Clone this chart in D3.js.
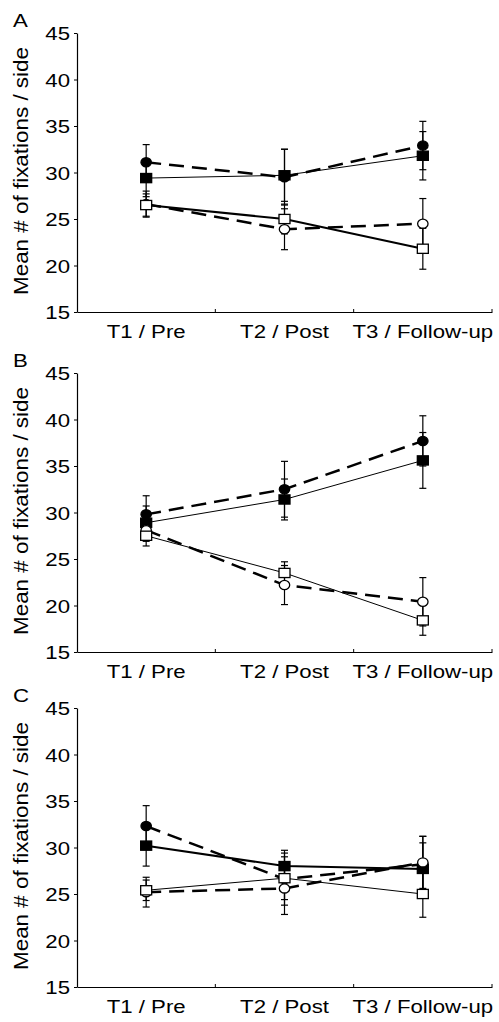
<!DOCTYPE html>
<html>
<head>
<meta charset="utf-8">
<script src="https://cdn.jsdelivr.net/npm/d3@7"></script>
<style>
  body { margin: 0; background: #fff; }
  text { font-family: "Liberation Sans", Arial, sans-serif; fill: #000; }
</style>
</head>
<body>
<script>
const categories = ["T1 / Pre", "T2 / Post", "T3 / Follow-up"];
const yTicks = [15, 20, 25, 30, 35, 40, 45];
const panelLabels = ["A", "B", "C"];
const yTitle = "Mean # of fixations / side";

// panel A: means and error
const aFilledCircle = [31.1, 29.5, 32.9];
const aFilledCircleErr = [1.9, 3.0, 2.6];
const aFilledSquare = [29.4, 29.7, 31.8];
const aFilledSquareErr = [2.0, 2.8, 2.6];
const aOpenCircle = [26.6, 23.9, 24.5];
const aOpenCircleErr = [1.4, 2.2, 2.7];
const aOpenSquare = [26.5, 25.0, 21.8];
const aOpenSquareErr = [1.2, 1.6, 2.2];

// panel B
const bFilledCircle = [29.8, 32.5, 37.7];
const bFilledCircleErr = [2.0, 3.0, 2.7];
const bFilledSquare = [28.9, 31.4, 35.6];
const bFilledSquareErr = [1.8, 2.2, 3.0];
const bOpenCircle = [28.1, 22.2, 20.4];
const bOpenCircleErr = [1.2, 2.1, 2.6];
const bOpenSquare = [27.5, 23.5, 18.4];
const bOpenSquareErr = [1.1, 1.2, 1.6];

// panel C
const cFilledCircle = [32.3, 26.6, 28.2];
const cFilledCircleErr = [2.2, 2.8, 3.0];
const cFilledSquare = [30.2, 28.0, 27.7];
const cFilledSquareErr = [2.2, 1.7, 2.8];
const cOpenCircle = [25.2, 25.6, 28.4];
const cOpenCircleErr = [1.6, 2.8, 2.8];
const cOpenSquare = [25.4, 26.7, 25.0];
const cOpenSquareErr = [1.1, 2.3, 2.5];

const panels = [
  [
    { mean: aFilledCircle, err: aFilledCircleErr, shape: "circle", filled: true, dashed: true },
    { mean: aFilledSquare, err: aFilledSquareErr, shape: "square", filled: true, dashed: false },
    { mean: aOpenCircle, err: aOpenCircleErr, shape: "circle", filled: false, dashed: true },
    { mean: aOpenSquare, err: aOpenSquareErr, shape: "square", filled: false, dashed: false }
  ],
  [
    { mean: bFilledCircle, err: bFilledCircleErr, shape: "circle", filled: true, dashed: true },
    { mean: bFilledSquare, err: bFilledSquareErr, shape: "square", filled: true, dashed: false },
    { mean: bOpenCircle, err: bOpenCircleErr, shape: "circle", filled: false, dashed: true },
    { mean: bOpenSquare, err: bOpenSquareErr, shape: "square", filled: false, dashed: false }
  ],
  [
    { mean: cFilledCircle, err: cFilledCircleErr, shape: "circle", filled: true, dashed: true },
    { mean: cFilledSquare, err: cFilledSquareErr, shape: "square", filled: true, dashed: false },
    { mean: cOpenCircle, err: cOpenCircleErr, shape: "circle", filled: false, dashed: true },
    { mean: cOpenSquare, err: cOpenSquareErr, shape: "square", filled: false, dashed: false }
  ]
];

// layout (the picture is stretched horizontally, so text gets scale(1.2,1))
const width = 499, height = 1022;
const left = 77, right = 492, plotH = 279;
const panelTops = [33, 373, 708];
const solidWidths = [[1, 2], [1, 1], [2, 1]]; // [filled square line, open square line]
const sx = 1.2, fontSize = 18.5;

const svg = d3.select("body").append("svg")
  .attr("width", width)
  .attr("height", height);

const x = d3.scaleBand().domain(categories).range([left, right]);
const cx = c => x(c) + x.bandwidth() / 2;

panels.forEach((series, pi) => {
  const top = panelTops[pi];
  const y = d3.scaleLinear().domain([15, 45]).range([top + plotH, top]);
  const g = svg.append("g");

  // y axis
  const ya = g.append("g")
    .attr("transform", `translate(${left},0)`)
    .call(d3.axisLeft(y).tickValues(yTicks).tickSize(3).tickSizeOuter(0));
  ya.select(".domain").attr("stroke-width", 1.2);
  ya.selectAll("text")
    .attr("x", -7 / sx)
    .attr("dy", "0.36em")
    .attr("transform", `scale(${sx},1)`)
    .style("font-size", fontSize + "px")
    .style("font-family", "Liberation Sans, Arial, sans-serif");

  // x axis
  const xa = g.append("g")
    .attr("transform", `translate(0,${y(15)})`)
    .call(d3.axisBottom(x).tickSize(0).tickSizeOuter(0));
  xa.select(".domain").attr("stroke-width", 1.2);
  xa.selectAll("text")
    .attr("y", 26)
    .attr("dy", null)
    .attr("transform", `scale(${sx},1)`)
    .style("font-size", fontSize + "px")
    .style("font-family", "Liberation Sans, Arial, sans-serif");
  // inward ticks at band boundaries
  xa.selectAll(".bound")
    .data(categories)
    .enter()
    .append("line")
    .attr("x1", c => x(c) + x.bandwidth())
    .attr("x2", c => x(c) + x.bandwidth())
    .attr("y1", 0)
    .attr("y2", -3)
    .attr("stroke", "#000")
    .attr("stroke-width", 1);

  // panel letter
  g.append("text")
    .attr("transform", `translate(13,${top - 6}) scale(${sx},1)`)
    .style("font-size", fontSize + "px")
    .text(panelLabels[pi]);

  // y title
  g.append("text")
    .attr("transform", `translate(28,${top + plotH / 2 - 1.5}) scale(${sx},1) rotate(-90)`)
    .attr("text-anchor", "middle")
    .attr("textLength", 248)
    .attr("lengthAdjust", "spacingAndGlyphs")
    .style("font-size", "17.5px")
    .text(yTitle);

  // error bars
  series.forEach(s => {
    const eb = g.append("g").attr("stroke", "#000").attr("stroke-width", 1.2);
    categories.forEach((c, i) => {
      const lo = y(s.mean[i] - s.err[i]), hi = y(s.mean[i] + s.err[i]);
      eb.append("line").attr("x1", cx(c)).attr("x2", cx(c)).attr("y1", lo).attr("y2", hi);
      eb.append("line").attr("x1", cx(c) - 3.5).attr("x2", cx(c) + 3.5).attr("y1", lo).attr("y2", lo);
      eb.append("line").attr("x1", cx(c) - 3.5).attr("x2", cx(c) + 3.5).attr("y1", hi).attr("y2", hi);
    });
  });

  // lines
  const line = d3.line()
    .x((d, i) => cx(categories[i]))
    .y(d => y(d));
  series.forEach((s, si) => {
    g.append("path")
      .datum(s.mean)
      .attr("d", line)
      .attr("fill", "none")
      .attr("stroke", "#000")
      .attr("stroke-width", s.dashed ? 2.5 : solidWidths[pi][si === 1 ? 0 : 1])
      .attr("stroke-dasharray", s.dashed ? "15,8" : null);
  });

  // markers
  series.forEach(s => {
    const m = g.append("g");
    s.mean.forEach((v, i) => {
      const px = cx(categories[i]), py = y(v);
      if (s.shape === "circle") {
        m.append("ellipse")
          .attr("cx", px).attr("cy", py)
          .attr("rx", 5.2).attr("ry", 4.6)
          .attr("fill", s.filled ? "#000" : "#fff")
          .attr("stroke", "#000").attr("stroke-width", 1.3);
      } else {
        m.append("rect")
          .attr("x", px - 5.5).attr("y", py - 4.6)
          .attr("width", 11).attr("height", 9.2)
          .attr("fill", s.filled ? "#000" : "#fff")
          .attr("stroke", "#000").attr("stroke-width", 1.3);
      }
    });
  });
});
</script>
</body>
</html>
